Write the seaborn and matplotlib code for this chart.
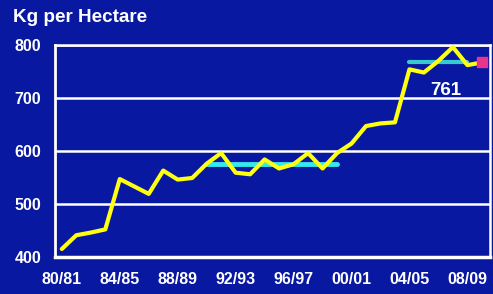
import pandas as pd
import matplotlib.pyplot as plt
import seaborn as sns

# seasons 80/81 .. 09/10
seasons = [f"{y % 100:02d}/{(y + 1) % 100:02d}" for y in range(1980, 2010)]
yields = [415, 441, 446, 452, 547, 533, 519, 563, 546, 549,
          576, 596, 559, 556, 584, 567, 575, 596, 567, 596,
          614, 647, 652, 654, 754, 748, 770, 796, 762, 767]
avg_early = 576   # 90/91 - 99/00
avg_late = 768    # 04/05 - 08/09
label_val = "761"
tick_labels = ["80/81", "84/85", "88/89", "92/93", "96/97", "00/01", "04/05", "08/09"]

bg = '#0818A0'

df = pd.DataFrame({'pos': range(len(seasons)), 'season': seasons, 'kg': yields})

sns.set_style('white')
plt.rcParams['font.family'] = ['Liberation Sans', 'DejaVu Sans']

fig = plt.figure(figsize=(4.93, 2.94), dpi=100, facecolor=bg)
ax = fig.add_axes([0.1116, 0.126, 0.882, 0.721])
ax.set_facecolor(bg)

for v in [500, 600, 700, 800]:
    ax.axhline(v, color='white', lw=1.8, zorder=1)

sns.lineplot(data=df, x='pos', y='kg', color='#FFFF10', lw=3, ax=ax, zorder=3)

i0 = seasons.index('90/91')
i1 = seasons.index('99/00')
ax.plot([i0, i1], [avg_early, avg_early], color='#33E8EE', lw=3.5, zorder=2)
j0 = seasons.index('04/05')
j1 = seasons.index('08/09')
ax.plot([j0, j1], [avg_late, avg_late], color='#38C8D0', lw=3, zorder=2)
ax.plot([len(seasons) - 1], [yields[-1]], marker='s', ms=7, color='#E8348C',
        ls='none', zorder=4)
ax.text(26.5, 706, label_val, color='white', fontsize=13.5, fontweight='bold',
        ha='center', va='baseline')

ax.set_xlim(-0.47, 29.55)
ax.set_ylim(400, 800)
ax.set_yticks([400, 500, 600, 700, 800])
ax.set_xticks([seasons.index(t) for t in tick_labels])
ax.set_xticklabels(tick_labels)
ax.tick_params(length=0, colors='white', labelsize=11.5)
ax.tick_params(axis='y', pad=10)
ax.tick_params(axis='x', pad=11)
for lab in ax.get_xticklabels() + ax.get_yticklabels():
    lab.set_fontweight('bold')
ax.set_xlabel('')
ax.set_ylabel('')

for side in ['left', 'bottom', 'right', 'top']:
    ax.spines[side].set_visible(True)
    ax.spines[side].set_color('white')
ax.spines['left'].set_linewidth(2)
ax.spines['bottom'].set_linewidth(2.5)
ax.spines['right'].set_linewidth(1.8)
ax.spines['top'].set_linewidth(1.8)

fig.text(0.026, 0.94, 'Kg per Hectare', color='white', fontsize=13.6,
         fontweight='bold', ha='left', va='center')

fig.savefig('out.png', dpi=100, facecolor=bg)
